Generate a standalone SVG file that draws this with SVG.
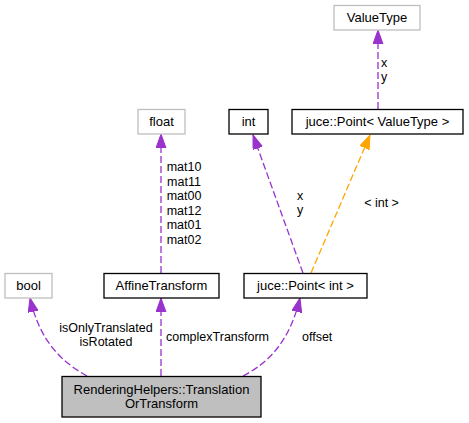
<svg xmlns="http://www.w3.org/2000/svg" width="469" height="423" viewBox="0 0 469 423">
<style>
.node rect{fill:#ffffff;stroke:#000000;stroke-width:1.3}
.node.grey rect{stroke:#bfbfbf}
.node.main rect{fill:#bfbfbf}
.node text{font-family:"Liberation Sans",Arial,sans-serif;font-size:13px;text-anchor:middle;fill:#000}
.edge{fill:none;stroke:#9a32cd;stroke-width:1.3;stroke-dasharray:7,3}
.edge.tpl{stroke:#ffa500}
.lbl{font-family:"Liberation Sans",Arial,sans-serif;font-size:12.5px;fill:#000}
.mid{text-anchor:middle}
</style>
<defs>
<marker id="ap" markerUnits="userSpaceOnUse" markerWidth="16" markerHeight="12" refX="14" refY="5" orient="auto">
<path d="M0,0 L14,5 L0,10 Z" fill="#9a32cd" stroke="#9a32cd" stroke-width="1" stroke-dasharray="none"/>
</marker>
<marker id="ao" markerUnits="userSpaceOnUse" markerWidth="16" markerHeight="12" refX="14" refY="5" orient="auto">
<path d="M0,0 L14,5 L0,10 Z" fill="#ffa500" stroke="#ffa500" stroke-width="1" stroke-dasharray="none"/>
</marker>
</defs>
<rect width="469" height="423" fill="#ffffff"/>
<g id="edges">
<path class="edge" d="M87,376 C62,362 40,342 30,298" marker-end="url(#ap)"/>
<path class="edge" d="M161,376 L161,298" marker-end="url(#ap)"/>
<path class="edge" d="M243,376 C270,362 290,340 300,298" marker-end="url(#ap)"/>
<path class="edge" d="M161,273 L161,134" marker-end="url(#ap)"/>
<path class="edge" d="M303,273 L253,135" marker-end="url(#ap)"/>
<path class="edge tpl" d="M311,273 L370,135" marker-end="url(#ao)"/>
<path class="edge" d="M378,109 L378,30" marker-end="url(#ap)"/>
<text class="lbl mid" x="106" y="332">isOnlyTranslated</text>
<text class="lbl mid" x="106" y="346">isRotated</text>
<text class="lbl" x="166" y="341">complexTransform</text>
<text class="lbl" x="302" y="341">offset</text>
<text class="lbl mid" x="184" y="171">mat10</text>
<text class="lbl mid" x="184" y="185.5">mat11</text>
<text class="lbl mid" x="184" y="200">mat00</text>
<text class="lbl mid" x="184" y="214.5">mat12</text>
<text class="lbl mid" x="184" y="229">mat01</text>
<text class="lbl mid" x="184" y="243.5">mat02</text>
<text class="lbl mid" x="300" y="200">x</text>
<text class="lbl mid" x="300" y="214">y</text>
<text class="lbl mid" x="381.5" y="207">&lt; int &gt;</text>
<text class="lbl mid" x="384" y="67">x</text>
<text class="lbl mid" x="384" y="81">y</text>
</g>
<g id="node-main" class="node main">
<rect x="62" y="376.5" width="199" height="40.5"/>
<text x="161.5" y="394">RenderingHelpers::Translation</text>
<text x="161.5" y="407.5">OrTransform</text>
</g>
<g id="node-bool" class="node grey">
<rect x="5" y="273.5" width="47" height="24.5"/>
<text x="28.5" y="290">bool</text>
</g>
<g id="node-affine" class="node">
<rect x="104" y="273.5" width="115" height="24.5"/>
<text x="161.5" y="290">AffineTransform</text>
</g>
<g id="node-pointint" class="node">
<rect x="244" y="273.5" width="123" height="24.5"/>
<text x="305.5" y="290">juce::Point&lt; int &gt;</text>
</g>
<g id="node-float" class="node grey">
<rect x="138" y="109.5" width="47" height="24.5"/>
<text x="161.5" y="126">float</text>
</g>
<g id="node-int" class="node">
<rect x="229" y="109.5" width="39" height="24.5"/>
<text x="248.5" y="126">int</text>
</g>
<g id="node-pointvt" class="node">
<rect x="292" y="109.5" width="171" height="24.5"/>
<text x="377.5" y="126">juce::Point&lt; ValueType &gt;</text>
</g>
<g id="node-valuetype" class="node grey">
<rect x="334" y="5.5" width="86" height="24.5"/>
<text x="377" y="22">ValueType</text>
</g>
</svg>
